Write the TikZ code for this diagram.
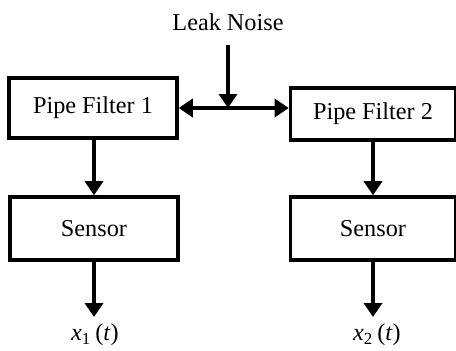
\documentclass[tikz,border=0pt]{standalone}
\usepackage{fontspec}
\setmainfont{Liberation Serif}
\usetikzlibrary{positioning,arrows.meta}

\begin{document}
\begin{tikzpicture}[>={Triangle[length=2.8mm,width=3.6mm]},line width=2pt]
    \tikzstyle{blockbox}=[draw,line width=2pt,inner sep=0pt,
      minimum width=33.6mm,minimum height=12mm,align=center,
      font=\fontsize{13.8}{16}\selectfont]
    \tikzstyle{sigtext}=[inner sep=1pt,font=\fontsize{13.8}{16}\selectfont]
    \useasboundingbox (0,0) rectangle (9.12,7);
    \node[sigtext] (noise) at (4.56,6.56) {Leak Noise};
    \node[blockbox] (pf1) at (1.86,4.84) {Pipe Filter 1};
    \node[blockbox,minimum width=33mm,minimum height=10.4mm] (pf2) at (7.46,4.72) {Pipe Filter 2};
    \node[blockbox,minimum height=12.6mm] (sen1) at (1.88,2.43) {Sensor};
    \node[blockbox,minimum width=33mm,minimum height=12.6mm] (sen2) at (7.46,2.43) {Sensor};
    \node[sigtext] (out1) at (1.90,0.30) {\textit{x}\textsubscript{1}\,(\textit{t})};
    \node[sigtext] (out2) at (7.54,0.30) {\textit{x}\textsubscript{2}\,(\textit{t})};
    \coordinate (inj) at (4.56,6.10);
    \coordinate (mid) at (pf1.east -| inj);
    % leak enters the pipe between the two filters
    \draw[->] (inj)--(mid);
    \draw[<->] (pf1.east)--(pf1.east -| pf2.west);
    \draw[->] (pf1.south -| sen1.north)--(sen1.north);
    \draw[->] (pf2.south)--(sen2.north);
    \draw[->] (sen1.south)--(sen1.south |- 0,0.66);
    \draw[->] (sen2.south)--(sen2.south |- 0,0.66);
  \end{tikzpicture}
\end{document}
